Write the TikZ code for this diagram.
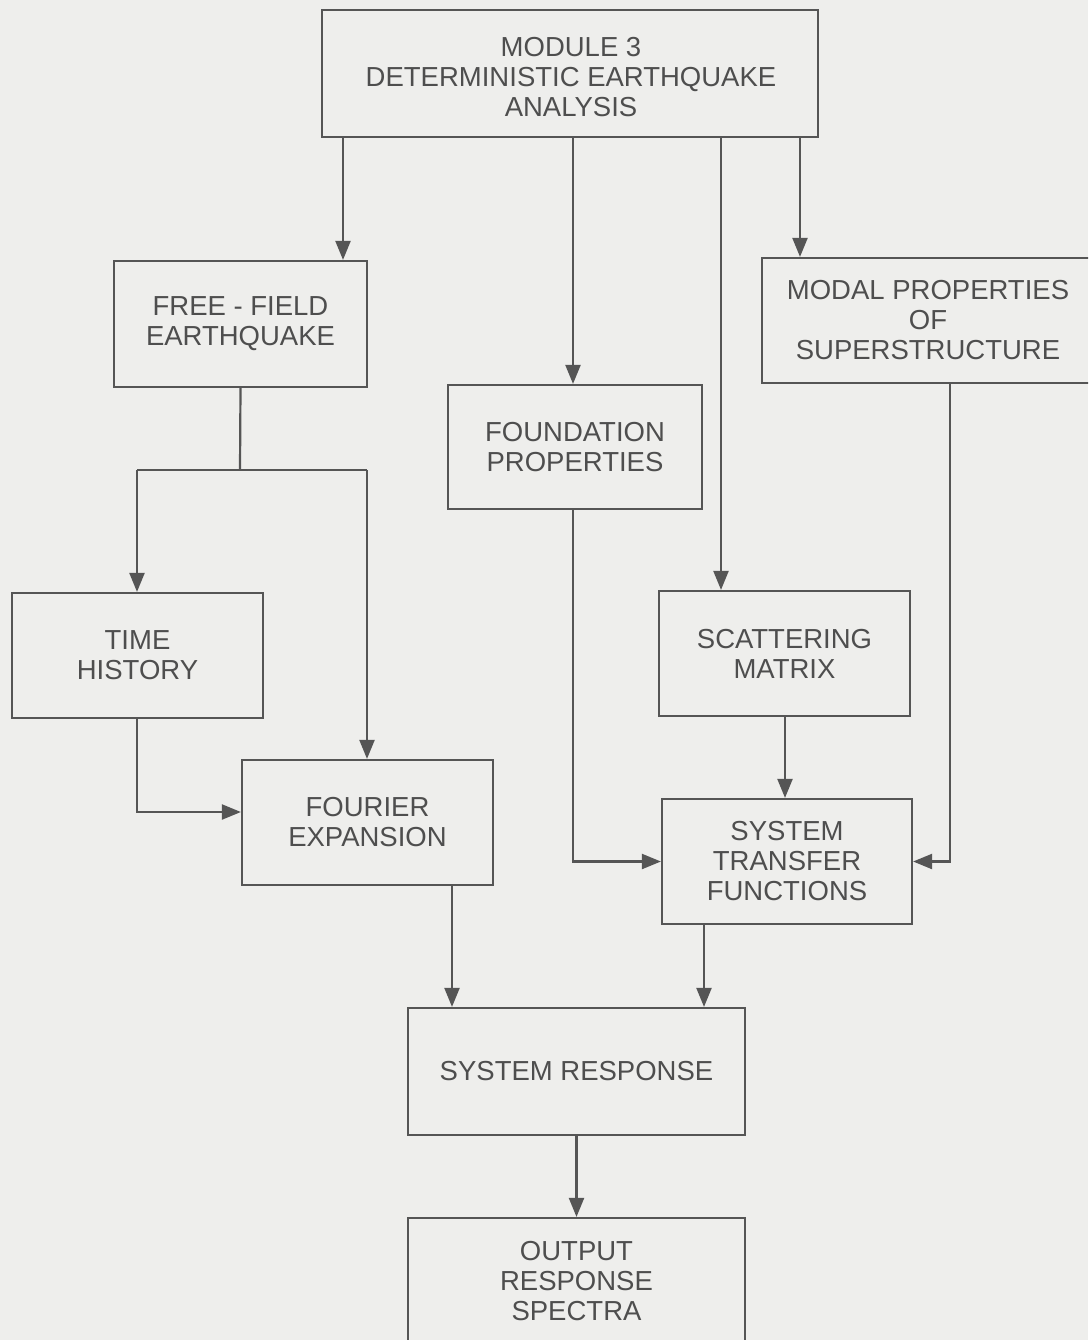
\documentclass[tikz,border=0pt]{standalone}
\usepackage{fontspec}
\setmainfont{Liberation Sans}
\usetikzlibrary{arrows.meta}
\definecolor{bgc}{HTML}{EEEEEC}
\definecolor{inkc}{HTML}{555555}
\definecolor{txtc}{HTML}{4E4E4E}
\tikzset{
  box/.style={draw=inkc, line width=2.2pt, rectangle, inner sep=0pt, align=center,
    text=txtc, font=\fontsize{27.5}{30}\selectfont},
  arr/.style={draw=inkc, line width=2.2pt, -{Triangle[length=19pt,width=15pt]}},
  ln/.style={draw=inkc, line width=2.2pt},
}
\begin{document}
\begin{tikzpicture}[x=1pt,y=-1pt]
\useasboundingbox (0,0) rectangle (1088,1340);
\fill[bgc] (0,0) rectangle (1088,1340);
\clip (0,0) rectangle (1088,1340);

\node[box, minimum width=496pt, minimum height=127pt] (mod) at (570,73.5) {};
\node[align=center, text=txtc, font=\fontsize{27.5}{30}\selectfont, inner sep=0pt] (modtxt) at (571,77)
  {MODULE 3\\DETERMINISTIC EARTHQUAKE\\ANALYSIS};
\node[box, minimum width=253pt, minimum height=126pt] (ff) at (240.5,324)
  {FREE - FIELD\\EARTHQUAKE};
\node[box, minimum width=332pt, minimum height=125pt] (modal) at (928,320.5)
  {MODAL PROPERTIES\\OF\\SUPERSTRUCTURE};
\node[box, minimum width=254pt, minimum height=124pt] (found) at (575,447)
  {FOUNDATION\\PROPERTIES};
\node[box, minimum width=251pt, minimum height=125pt] (th) at (137.5,655.5)
  {TIME\\HISTORY};
\node[box, minimum width=251pt, minimum height=125pt] (sc) at (784.5,653.5)
  {SCATTERING\\MATRIX};
\node[box, minimum width=251pt, minimum height=125pt] (four) at (367.5,822.5)
  {FOURIER\\EXPANSION};
\node[box, minimum width=250pt, minimum height=125pt] (stf) at (787,861.5)
  {SYSTEM\\TRANSFER\\FUNCTIONS};
\node[box, minimum width=337pt, minimum height=127pt] (sr) at (576.5,1071.5)
  {SYSTEM RESPONSE};
\node[box, minimum width=337pt, minimum height=126pt] (out) at (576.5,1281)
  {OUTPUT\\RESPONSE\\SPECTRA};

% x positions of the connectors
\coordinate (xa) at (343,0);
\coordinate (xb) at (573,0);
\coordinate (xc) at (721,0);
\coordinate (xd) at (800,0);
\coordinate (xe) at (950,0);
\coordinate (xf) at (137,0);
\coordinate (xg) at (367,0);
\coordinate (xh) at (452,0);
\coordinate (xi) at (704,0);
\coordinate (xj) at (785,0);
\coordinate (split) at (240,470);
\coordinate (yk) at (0,812);

% from module 3
\draw[arr] (mod.south -| xa) -- (ff.north -| xa);
\draw[arr] (mod.south -| xb) -- (found.north -| xb);
\draw[arr] (mod.south -| xc) -- (sc.north -| xc);
\draw[arr] (mod.south -| xd) -- (modal.north -| xd);

% free-field split
\draw[ln] (ff.south) -- (split);
\draw[ln] (split -| xf) -- (split -| xg);
\draw[arr] (split -| xf) -- (th.north -| xf);
\draw[arr] (split -| xg) -- (four.north -| xg);

% time history -> fourier
\draw[arr] (th.south -| xf) |- (four.west |- yk);

% foundation -> system transfer
\draw[arr] (found.south -| xb) |- (stf.west);
% scattering -> system transfer
\draw[arr] (sc.south -| xj) -- (stf.north -| xj);
% modal -> system transfer
\draw[arr] (modal.south -| xe) |- (stf.east);

% to system response
\draw[arr] (four.south -| xh) -- (sr.north -| xh);
\draw[arr] (stf.south -| xi) -- (sr.north -| xi);
\draw[arr] (sr.south) -- (out.north);
\end{tikzpicture}
\end{document}
